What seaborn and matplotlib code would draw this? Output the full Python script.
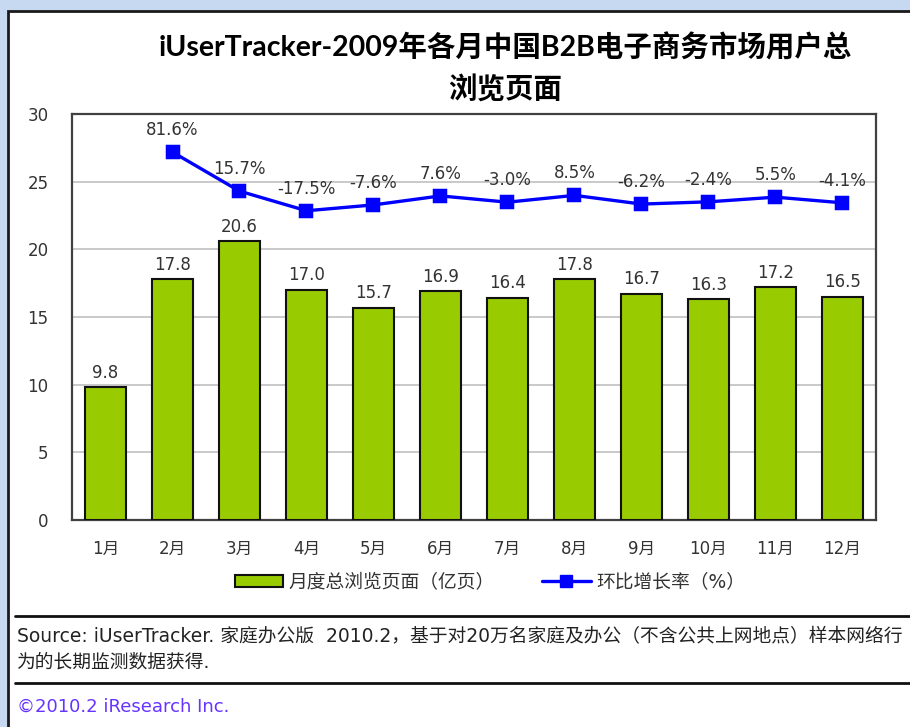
import matplotlib
matplotlib.use("Agg")
import matplotlib.pyplot as plt
import seaborn as sns
import pandas as pd
import numpy as np
from matplotlib.patches import Rectangle, Patch
from matplotlib.lines import Line2D

months = ["1月", "2月", "3月", "4月", "5月", "6月", "7月", "8月", "9月", "10月", "11月", "12月"]
page_views = [9.8, 17.8, 20.6, 17.0, 15.7, 16.9, 16.4, 17.8, 16.7, 16.3, 17.2, 16.5]
growth_months = months[1:]
growth_rate = [81.6, 15.7, -17.5, -7.6, 7.6, -3.0, 8.5, -6.2, -2.4, 5.5, -4.1]
y_ticks = [0, 5, 10, 15, 20, 25, 30]

title = "iUserTracker-2009年各月中国B2B电子商务市场用户总\n浏览页面"
bar_label = "月度总浏览页面（亿页）"
line_label = "环比增长率（%）"
source_1 = "Source: iUserTracker. 家庭办公版  2010.2，基于对20万名家庭及办公（不含公共上网地点）样本网络行"
source_2 = "为的长期监测数据获得."
copyright_txt = "©2010.2 iResearch Inc."

sns.set_theme(style="white")
FAM = ["DejaVu Sans", "Noto Sans CJK SC"]
TFAM = ["Lato", "Noto Sans CJK SC", "DejaVu Sans"]
plt.rcParams["font.family"] = FAM

W, H = 910, 727
fig = plt.figure(figsize=(W / 100, H / 100), dpi=100)
fig.patch.set_facecolor("#c6d9f1")

# white panel with dark top/left border
fig.add_artist(Rectangle((7.5 / W, -0.05), 1.1, (H - 11) / H + 0.05, transform=fig.transFigure,
                         facecolor="white", edgecolor="#1a1a1a", linewidth=2, zorder=-1))

ax = fig.add_axes([72 / W, 1 - 520 / H, (876 - 72) / W, (520 - 114) / H])
ax.set_facecolor("white")

df_bar = pd.DataFrame({"month": months, "value": page_views})
sns.barplot(data=df_bar, x="month", y="value", order=months, color="#99cc00",
            saturation=1, width=0.62, edgecolor="#111111", linewidth=1.5, ax=ax, zorder=3)
ax.set_ylim(0, 30)
ax.set_yticks(y_ticks)
ax.set_xlabel("")
ax.set_ylabel("")
ax.yaxis.grid(True, color="#c0c0c0", linewidth=1.2, zorder=0)
ax.set_axisbelow(True)
ax.tick_params(axis="both", length=0, labelsize=12, labelcolor="#333333")
ax.tick_params(axis="x", pad=14)
ax.tick_params(axis="y", pad=17)
for s in ax.spines.values():
    s.set_visible(True)
    s.set_color("#404040")
    s.set_linewidth(1.6)

for i, v in enumerate(page_views):
    ax.annotate(f"{v:.1f}", (i, v), xytext=(0, 4), textcoords="offset points",
                ha="center", va="bottom", fontsize=12, color="#333333")

ax2 = ax.twinx()
df_line = pd.DataFrame({"month": growth_months, "rate": growth_rate})
sns.pointplot(data=df_line, x="month", y="rate", order=months, color="#0000ff",
              markers="s", markersize=9, linewidth=2.4, errorbar=None, ax=ax2)
ax2.set_ylim(-540, 146)
ax2.set_yticks([])
ax2.set_xlabel("")
ax2.set_ylabel("")
for s in ax2.spines.values():
    s.set_visible(False)
for m, v in zip(growth_months, growth_rate):
    i = months.index(m)
    ax2.annotate(f"{v:.1f}%", (i, v), xytext=(0, 16), textcoords="offset points",
                 ha="center", va="center", fontsize=12, color="#333333")

fig.text(505 / W, 1 - 68 / H, title, ha="center", va="center", fontsize=20.5,
         fontweight="bold", linespacing=1.55, color="#000000", family=TFAM)

handles = [Patch(facecolor="#99cc00", edgecolor="#111111", linewidth=1.5),
           Line2D([0], [0], color="#0000ff", linewidth=2.4, marker="s", markersize=9)]
fig.legend(handles, [bar_label, line_label], loc="center", ncol=2,
           bbox_to_anchor=(490 / W, 1 - 582 / H), frameon=False, fontsize=13.5,
           handlelength=2.6, handleheight=0.6, handletextpad=0.3, columnspacing=2.5,
           labelcolor="#333333")

for yy in (616, 683):
    fig.add_artist(Line2D([15 / W, 1.0], [1 - yy / H, 1 - yy / H], transform=fig.transFigure,
                          color="#111111", linewidth=2))

fig.text(17 / W, 1 - 637 / H, source_1, ha="left", va="center", fontsize=13.5, color="#222222", family=FAM)
fig.text(17 / W, 1 - 662 / H, source_2, ha="left", va="center", fontsize=13.5, color="#222222", family=FAM)
fig.text(17 / W, 1 - 707 / H, copyright_txt, ha="left", va="center", fontsize=13, color="#6633ff", family=FAM)

fig.savefig("out.png", dpi=100)
